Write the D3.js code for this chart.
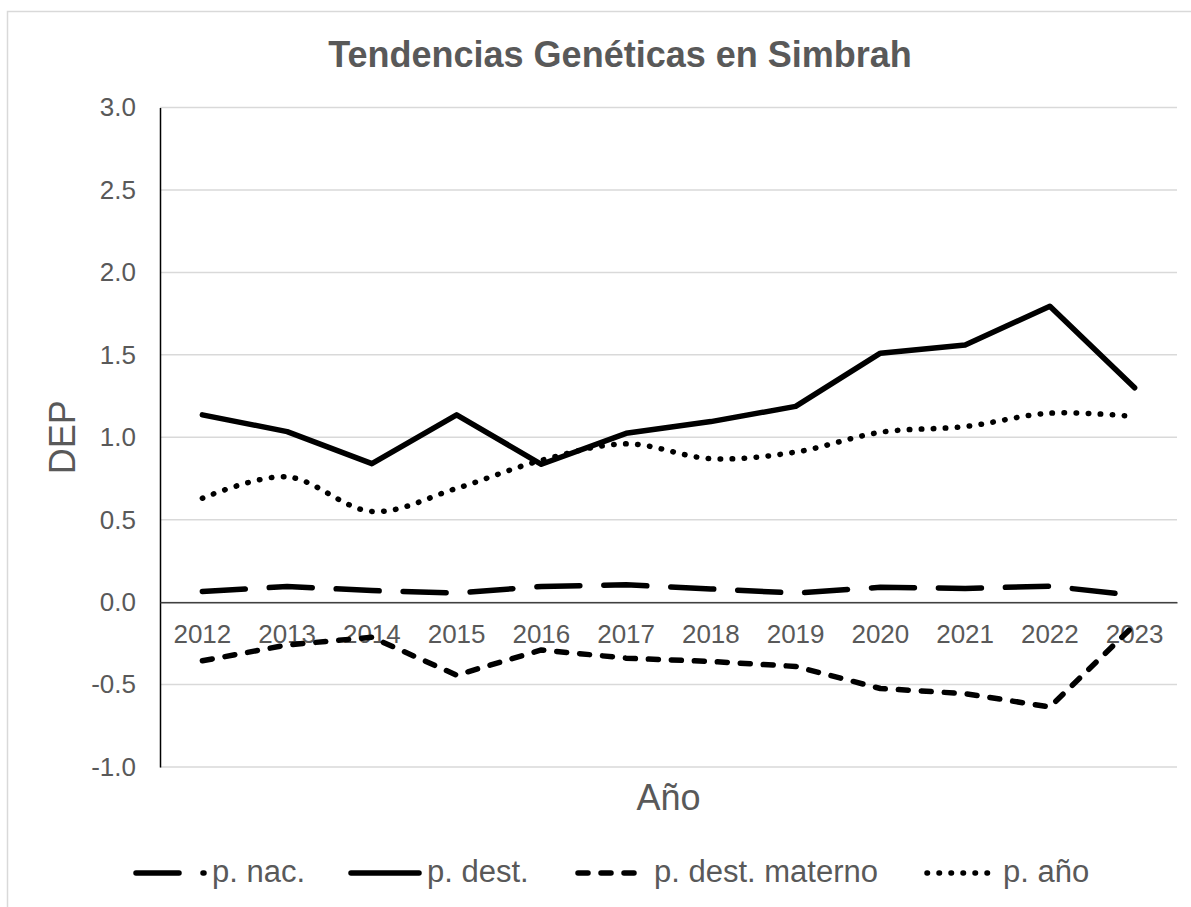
<!DOCTYPE html>
<html>
<head>
<meta charset="utf-8">
<script src="https://cdn.jsdelivr.net/npm/d3@7"></script>
<style>
  body { margin: 0; background: #fff; }
  text { font-family: "Liberation Sans", Arial, sans-serif; fill: #595959; }
</style>
</head>
<body>
<div id="chart-area"></div>
<script>
// data
const years = ["2012", "2013", "2014", "2015", "2016", "2017", "2018", "2019", "2020", "2021", "2022", "2023"];
const pNac = [0.065, 0.095, 0.07, 0.055, 0.095, 0.105, 0.08, 0.055, 0.09, 0.083, 0.097, 0.04];
const pDest = [1.136, 1.034, 0.84, 1.136, 0.836, 1.024, 1.095, 1.187, 1.51, 1.56, 1.795, 1.30];
const pDestMaterno = [-0.356, -0.26, -0.213, -0.443, -0.29, -0.34, -0.36, -0.39, -0.524, -0.555, -0.636, -0.138];
const pAnio = [0.63, 0.76, 0.55, 0.69, 0.86, 0.96, 0.87, 0.91, 1.03, 1.065, 1.146, 1.126];
const yTicks = [-1.0, -0.5, 0.0, 0.5, 1.0, 1.5, 2.0, 2.5, 3.0];
const seriesNames = ["p. nac.", "p. dest.", "p. dest. materno", "p. año"];

const svg = d3.select("#chart-area")
    .append("svg")
    .attr("width", 1191)
    .attr("height", 907);

// chart border (right side is cut off in the original)
svg.append("rect")
    .attr("x", 7.5).attr("y", 11.5)
    .attr("width", 1240).attr("height", 920)
    .attr("fill", "none")
    .attr("stroke", "#d9d9d9")
    .attr("stroke-width", 1.5);

const plotLeft = 160, plotRight = 1177, plotTop = 107.5, plotBottom = 767;

const x = d3.scaleBand()
    .domain(years)
    .range([plotLeft, plotRight]);

const y = d3.scaleLinear()
    .domain([-1, 3])
    .range([plotBottom, plotTop]);

// gridlines
svg.append("g")
    .selectAll("line")
    .data(yTicks)
    .enter().append("line")
    .attr("x1", plotLeft).attr("x2", plotRight)
    .attr("y1", d => y(d)).attr("y2", d => y(d))
    .attr("stroke", "#d9d9d9")
    .attr("stroke-width", 1.5);

// y axis
const yAxis = svg.append("g")
    .attr("transform", "translate(" + plotLeft + ",0)")
    .call(d3.axisLeft(y).tickValues(yTicks).tickFormat(d => d.toFixed(1)).tickSize(0).tickPadding(24));
yAxis.select(".domain").attr("stroke", "#000").attr("stroke-width", 1.5);
yAxis.selectAll("text")
    .style("font-size", "26px")
    .style("fill", "#595959");

// x axis at zero, labels below it
const xAxis = svg.append("g")
    .attr("transform", "translate(0," + y(0) + ")")
    .call(d3.axisBottom(x).tickSize(0).tickPadding(22));
xAxis.select(".domain").attr("stroke", "#404040").attr("stroke-width", 1.5);
xAxis.selectAll("text")
    .style("font-size", "26px")
    .style("fill", "#595959");

// lines
const styles = [
    { values: pNac, dash: "43,24", curve: d3.curveLinear },
    { values: pDest, dash: null, curve: d3.curveLinear },
    { values: pDestMaterno, dash: "10,13", curve: d3.curveLinear },
    { values: pAnio, dash: "0.5,11.5", curve: d3.curveCatmullRom.alpha(0) }
];

styles.forEach(function (s) {
    const line = d3.line()
        .x((d, i) => x(years[i]) + x.bandwidth() / 2)
        .y(d => y(d))
        .curve(s.curve);
    svg.append("path")
        .datum(s.values)
        .attr("d", line)
        .attr("fill", "none")
        .attr("stroke", "#000")
        .attr("stroke-width", 5.5)
        .attr("stroke-linecap", "round")
        .attr("stroke-linejoin", "round")
        .attr("stroke-dasharray", s.dash);
});

// title
svg.append("text")
    .attr("x", 620).attr("y", 67)
    .attr("text-anchor", "middle")
    .style("font-size", "36px")
    .style("font-weight", "bold")
    .text("Tendencias Genéticas en Simbrah");

// axis titles
svg.append("text")
    .attr("transform", "translate(75," + ((plotTop + plotBottom) / 2) + ") rotate(-90)")
    .attr("text-anchor", "middle")
    .style("font-size", "36px")
    .text("DEP");

svg.append("text")
    .attr("x", (plotLeft + plotRight) / 2).attr("y", 810)
    .attr("text-anchor", "middle")
    .style("font-size", "36px")
    .text("Año");

// legend
const legendX = [136, 351, 578, 927];
const legend = svg.append("g");
seriesNames.forEach(function (name, i) {
    const lx = legendX[i], ly = 873;
    legend.append("line")
        .attr("x1", lx).attr("x2", lx + 68)
        .attr("y1", ly).attr("y2", ly)
        .attr("stroke", "#000")
        .attr("stroke-width", 5.5)
        .attr("stroke-linecap", "round")
        .attr("stroke-dasharray", styles[i].dash);
    legend.append("text")
        .attr("x", lx + 76).attr("y", ly + 9)
        .style("font-size", "31px")
        .text(name);
});
</script>
</body>
</html>
